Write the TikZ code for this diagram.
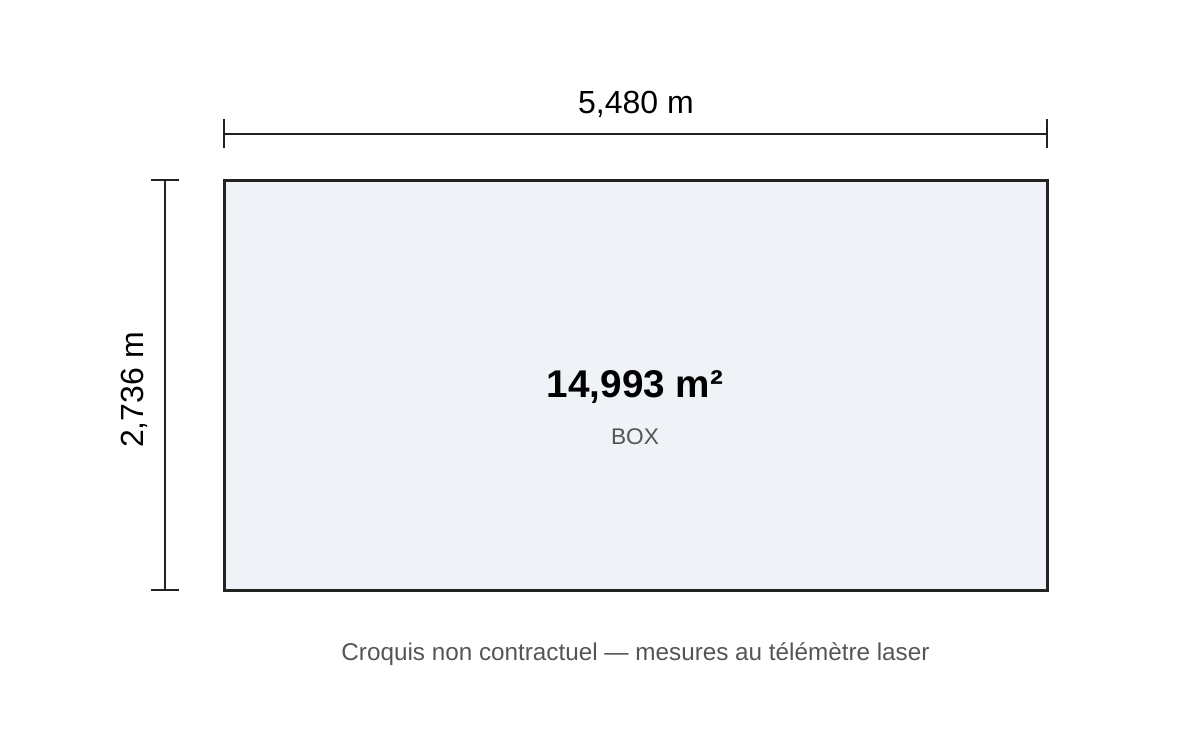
\documentclass[tikz,border=0pt]{standalone}
\usepackage{fontspec}
\setmainfont{Liberation Sans}
\definecolor{ink}{HTML}{222222}
\definecolor{roomfill}{HTML}{EFF3F8}
\definecolor{greytxt}{HTML}{555555}
\tikzset{
  room/.style={draw=ink, line width=2.25pt, fill=roomfill, inner sep=0pt},
  dimline/.style={draw=ink, line width=1.6pt},
  dimtext/.style={font=\fontsize{24}{28}\selectfont, text=black, anchor=base, inner sep=0pt},
}
\begin{document}
\begin{tikzpicture}[x=0.75pt,y=-0.75pt]
\useasboundingbox (0,0) rectangle (1200,750);
\node[room, minimum width=823*0.75pt, minimum height=410*0.75pt] (box) at (635.5,385) {};
% top dimension
\coordinate (tl) at (224,134);
\coordinate (tr) at (1047,134);
\draw[dimline] (tl) -- (tr);
\draw[dimline] ([yshift=-14*0.75pt]tl) -- ([yshift=15*0.75pt]tl);
\draw[dimline] ([yshift=-14*0.75pt]tr) -- ([yshift=15*0.75pt]tr);
\node[dimtext] (wtext) at (636,113) {5,480 m};
% left dimension
\coordinate (lt) at (165,180);
\coordinate (lb) at (165,590);
\draw[dimline] (lt) -- (lb);
\draw[dimline] ([xshift=-14*0.75pt]lt) -- ([xshift=14*0.75pt]lt);
\draw[dimline] ([xshift=-14*0.75pt]lb) -- ([xshift=14*0.75pt]lb);
\node[dimtext, rotate=90] (htext) at (143,390) {2,736 m};
% labels
\node[anchor=base, inner sep=0pt, font=\fontsize{29}{32}\selectfont\bfseries] (area) at (635,397) {14,993 m²};
\node[anchor=base, inner sep=0pt, text=greytxt, font=\fontsize{17}{20}\selectfont] (name) at (635,444) {BOX};
\node[anchor=base, inner sep=0pt, text=greytxt, font=\fontsize{18.2}{22}\selectfont] (caption) at (635.5,660) {Croquis non contractuel — mesures au télémètre laser};
\end{tikzpicture}
\end{document}
